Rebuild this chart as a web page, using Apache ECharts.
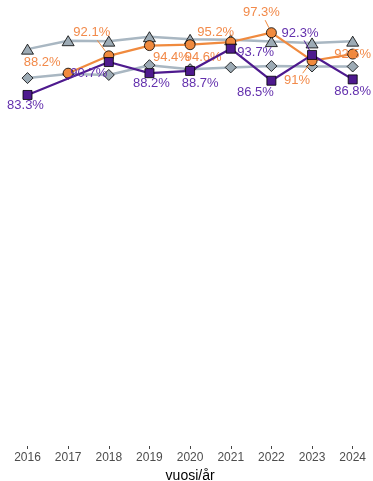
<!DOCTYPE html>
<html>
<head>
<meta charset="utf-8">
<script src="https://cdn.jsdelivr.net/npm/echarts@6/dist/echarts.min.js"></script>
<style>
  html, body { margin: 0; padding: 0; background: #fff; }
  #chart { width: 373px; height: 481px; }
</style>
</head>
<body>
<div id="chart"></div>
<script>
// Years on the x axis
const years = ['2016', '2017', '2018', '2019', '2020', '2021', '2022', '2023', '2024'];

// Reference series (grey, unlabelled)
const greyTriangle = [93.6, 95.5, 95.4, 96.4, 95.8, 95.7, 95.3, 95.0, 95.4];
const greyDiamond  = [87.1, 88.0, 87.8, 90.0, 89.1, 89.5, 89.8, 89.7, 89.7];

// Highlighted series (labelled)
const orangeValues = [null, 88.2, 92.1, 94.4, 94.6, 95.2, 97.3, 91, 92.5];
const purpleValues = [83.3, null, 90.7, 88.2, 88.7, 93.7, 86.5, 92.3, 86.8];

// Label placement relative to each point (px), and which labels get a leader line
const orangeOffsets = [null, [-26, -11], [-17, -23], [22, 12], [13, 13], [-15, -10], [-10, -20], [-15, 20], [0, 0]];
const orangeLeader  = [false, false, true, false, false, false, true, true, false];
const purpleOffsets = [[-2, 10], null, [-20, 11], [2, 10], [10, 12], [25, 4], [-16, 12], [-12, -22], [0, 12]];
const purpleLeader  = [false, false, false, false, false, false, false, true, false];

const ORANGE = '#f08a3e';
const ORANGE_TEXT = '#f28a4a';
const PURPLE = '#4e1a8e';
const PURPLE_TEXT = '#6330ad';
const GREY_LINE = '#a9b7c2';
const GREY_FILL = '#9dabb5';
const FONT = 'Liberation Sans, Arial, sans-serif';

function labelled(values, offsets, textColor) {
  return values.map((v, i) => {
    if (v === null) return null;
    return {
      value: v,
      label: {
        show: true,
        position: 'inside',
        offset: offsets[i],
        color: textColor,
        fontSize: 13,
        fontFamily: FONT,
        formatter: p => p.value + '%'
      }
    };
  });
}

// Leader segments: [category index, value, dx, dy] for each label that needs one
function leaderData(values, offsets, leaders) {
  const out = [];
  values.forEach((v, i) => {
    if (v !== null && leaders[i]) out.push([i, v, offsets[i][0], offsets[i][1]]);
  });
  return out;
}

function leaderSeries(values, offsets, leaders, color) {
  return {
    type: 'custom',
    data: leaderData(values, offsets, leaders),
    z: 3,
    silent: true,
    renderItem: (params, api) => {
      const p = api.coord([api.value(0), api.value(1)]);
      const dx = api.value(2), dy = api.value(3);
      const len = Math.hypot(dx, dy);
      // leave the marker and the label box (half sizes) uncovered
      const f = Math.min(18 / Math.abs(dx || 1e-6), 7.5 / Math.abs(dy || 1e-6));
      const endT = Math.max(0, 1 - f);
      const startT = 5.5 / len;
      return {
        type: 'line',
        shape: {
          x1: p[0] + dx * startT, y1: p[1] + dy * startT,
          x2: p[0] + dx * endT,   y2: p[1] + dy * endT
        },
        style: { stroke: color, lineWidth: 1 }
      };
    }
  };
}

const chart = echarts.init(document.getElementById('chart'), null, { renderer: 'canvas' });

chart.setOption({
  animation: false,
  grid: {
    left: 27.5, right: 20.3, top: 10, bottom: 35,
    containLabel: false,
    outerBoundsMode: 'none'
  },
  xAxis: {
    type: 'category',
    data: years,
    boundaryGap: false,
    axisLine: { show: false },
    axisTick: { show: true, length: 3, lineStyle: { color: '#444', width: 1 } },
    axisLabel: {
      color: '#4d4d4d',
      fontSize: 12,
      fontFamily: FONT,
      margin: 6,
      interval: 0
    },
    name: 'vuosi/år',
    nameLocation: 'middle',
    nameGap: 22,
    nameTextStyle: { color: '#000', fontSize: 14, fontFamily: FONT },
    splitLine: { show: false }
  },
  yAxis: {
    type: 'value',
    min: 4.4,
    max: 102.4,
    show: false,
    splitLine: { show: false }
  },
  series: [
    {
      type: 'line',
      data: greyTriangle,
      symbol: 'triangle',
      symbolSize: [12, 10],
      lineStyle: { color: GREY_LINE, width: 2.5 },
      itemStyle: { color: GREY_FILL, borderColor: '#000', borderWidth: 0.8 },
      z: 2
    },
    {
      type: 'line',
      data: greyDiamond,
      symbol: 'diamond',
      symbolSize: [11, 11],
      lineStyle: { color: GREY_LINE, width: 2.5 },
      itemStyle: { color: GREY_FILL, borderColor: '#000', borderWidth: 0.8 },
      z: 2
    },
    leaderSeries(orangeValues, orangeOffsets, orangeLeader, ORANGE),
    leaderSeries(purpleValues, purpleOffsets, purpleLeader, PURPLE),
    {
      type: 'line',
      data: labelled(orangeValues, orangeOffsets, ORANGE_TEXT),
      connectNulls: true,
      symbol: 'circle',
      symbolSize: 10,
      lineStyle: { color: ORANGE, width: 2.2 },
      itemStyle: { color: ORANGE, borderColor: '#000', borderWidth: 0.8 },
      z: 4
    },
    {
      type: 'line',
      data: labelled(purpleValues, purpleOffsets, PURPLE_TEXT),
      connectNulls: true,
      symbol: 'rect',
      symbolSize: 9,
      lineStyle: { color: PURPLE, width: 2.2 },
      itemStyle: { color: PURPLE, borderColor: '#000', borderWidth: 0.8 },
      z: 5
    }
  ]
});
</script>
</body>
</html>
